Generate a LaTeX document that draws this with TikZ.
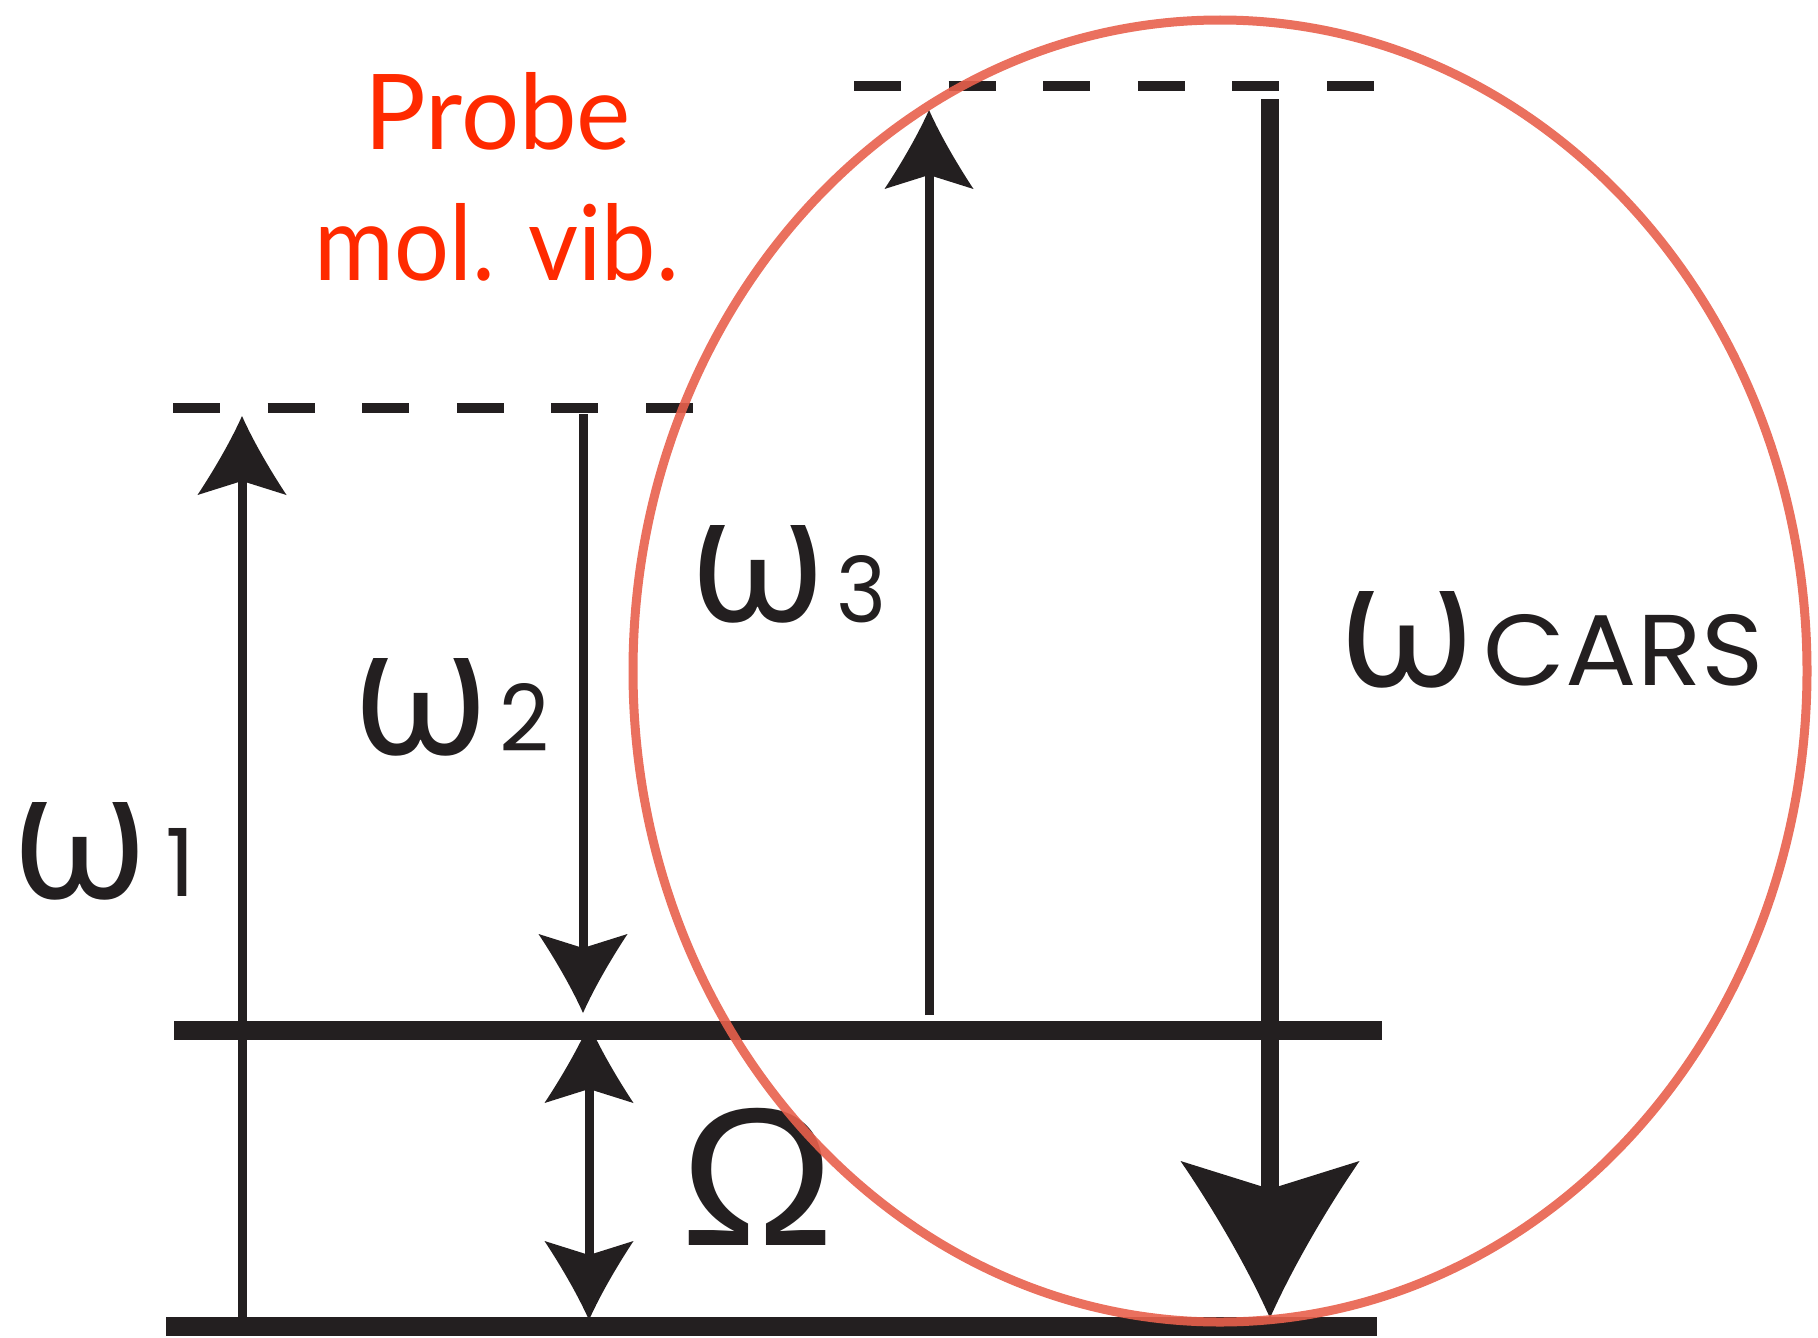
\documentclass[tikz,border=0pt]{standalone}
\usepackage{graphicx}
\usepackage{fontspec}
\setmainfont{Poppins}
\newfontfamily\grk{Open Sans}
\newfontfamily\redf{Lato}
\newfontfamily\omg{Liberation Sans}
\usetikzlibrary{arrows.meta}
\definecolor{ink}{HTML}{231F20}
\definecolor{probe}{HTML}{FF2A00}
\definecolor{circ}{HTML}{E8604C}

\pgfdeclarearrow{
  name = SHead,
  setup code = {
    \pgfarrowssettipend{0pt}
    \pgfarrowssetbackend{-79pt}
    \pgfarrowssetlineend{-60pt}
  },
  drawing code = {
    \pgfpathmoveto{\pgfqpoint{0pt}{0pt}}
    \pgfpathcurveto{\pgfqpoint{-27pt}{12pt}}{\pgfqpoint{-57pt}{30pt}}{\pgfqpoint{-79pt}{44.5pt}}
    \pgfpathlineto{\pgfqpoint{-65pt}{0pt}}
    \pgfpathlineto{\pgfqpoint{-79pt}{-44.5pt}}
    \pgfpathcurveto{\pgfqpoint{-57pt}{-30pt}}{\pgfqpoint{-27pt}{-12pt}}{\pgfqpoint{0pt}{0pt}}
    \pgfpathclose
    \pgfusepathqfill
  }
}
\pgfdeclarearrow{
  name = BHead,
  setup code = {
    \pgfarrowssettipend{0pt}
    \pgfarrowssetbackend{-157pt}
    \pgfarrowssetlineend{-120pt}
  },
  drawing code = {
    \pgfpathmoveto{\pgfqpoint{0pt}{0pt}}
    \pgfpathcurveto{\pgfqpoint{-54pt}{24pt}}{\pgfqpoint{-114pt}{60pt}}{\pgfqpoint{-157pt}{89.5pt}}
    \pgfpathlineto{\pgfqpoint{-129pt}{0pt}}
    \pgfpathlineto{\pgfqpoint{-157pt}{-89.5pt}}
    \pgfpathcurveto{\pgfqpoint{-114pt}{-60pt}}{\pgfqpoint{-54pt}{-24pt}}{\pgfqpoint{0pt}{0pt}}
    \pgfpathclose
    \pgfusepathqfill
  }
}

\begin{document}
\begin{tikzpicture}[x=1pt,y=-1pt,
  level/.style={line width=19pt, color=ink},
  virt/.style={line width=10pt, color=ink, dash pattern=on 47pt off 47.6pt},
  beam/.style={line width=9pt, color=ink},
  cars/.style={line width=18pt, color=ink},
  lab/.style={inner sep=0pt, outer sep=0pt, text=ink},
  redlab/.style={inner sep=0pt, outer sep=0pt, text=probe},
  ring/.style={line width=9pt, draw=circ, opacity=0.9}
]
\useasboundingbox (0,0) rectangle (1818,1338);

% energy levels
\coordinate (g0l) at (166,1326);
\coordinate (g0r) at (1377,1326);
\coordinate (v1l) at (174,1030);
\coordinate (v1r) at (1382,1030);
\coordinate (d1l) at (173,408);
\coordinate (d1r) at (693,408);
\coordinate (d2l) at (854,86);
\coordinate (d2r) at (1374,86);
\draw[level] (g0l) -- (g0r);
\draw[level] (v1l) -- (v1r);
\draw[virt] (d1l) -- (d1r);
\draw[virt] (d2l) -- (d2r);

% transitions
\coordinate (w1s) at (242,1326);
\coordinate (w1e) at (242,416);
\coordinate (w2s) at (583,414);
\coordinate (w2e) at (583,1013);
\coordinate (w3s) at (929,1015);
\coordinate (w3e) at (929,110);
\coordinate (wcs) at (1270,99);
\coordinate (wce) at (1270,1318);
\coordinate (oms) at (589,1024);
\coordinate (ome) at (589,1320);
\draw[beam, -SHead] (w1s) -- (w1e);
\draw[beam, -SHead] (w2s) -- (w2e);
\draw[beam, -SHead] (w3s) -- (w3e);
\draw[cars, -BHead] (wcs) -- (wce);
\draw[beam, SHead-SHead] (oms) -- (ome);

% labels
\node[lab] (om1) at (80,851) {\resizebox{135pt}{96pt}{\grk ω}};
\node[lab, anchor=south] (sub1) at (181,896) {\resizebox{!}{68pt}{1}};
\node[lab] (om2) at (421,707) {\resizebox{135pt}{96pt}{\grk ω}};
\node[lab, anchor=south] (sub2) at (524,751) {\resizebox{50pt}{68pt}{2}};
\node[lab] (om3) at (758,574) {\resizebox{135pt}{96pt}{\grk ω}};
\node[lab, anchor=south] (sub3) at (862,623) {\resizebox{50pt}{67pt}{3}};
\node[lab] (omc) at (1407,640) {\resizebox{135pt}{95pt}{\grk ω}};
\node[lab, anchor=south] (subc) at (1624,686) {\resizebox{280pt}{71pt}{CARS}};
\node[lab] (bigom) at (758,1177) {\resizebox{154pt}{137pt}{\omg Ω}};

\node[redlab, anchor=south] (probe) at (498,150) {\resizebox{266pt}{77pt}{\redf Probe}};
\node[redlab, anchor=south] (molvib) at (497,281) {\resizebox{364pt}{77pt}{\redf mol. vib.}};

% highlight ring
\coordinate (rc) at (1220,671);
\draw[ring] (rc) ellipse [x radius=587pt, y radius=651pt];
\end{tikzpicture}
\end{document}
